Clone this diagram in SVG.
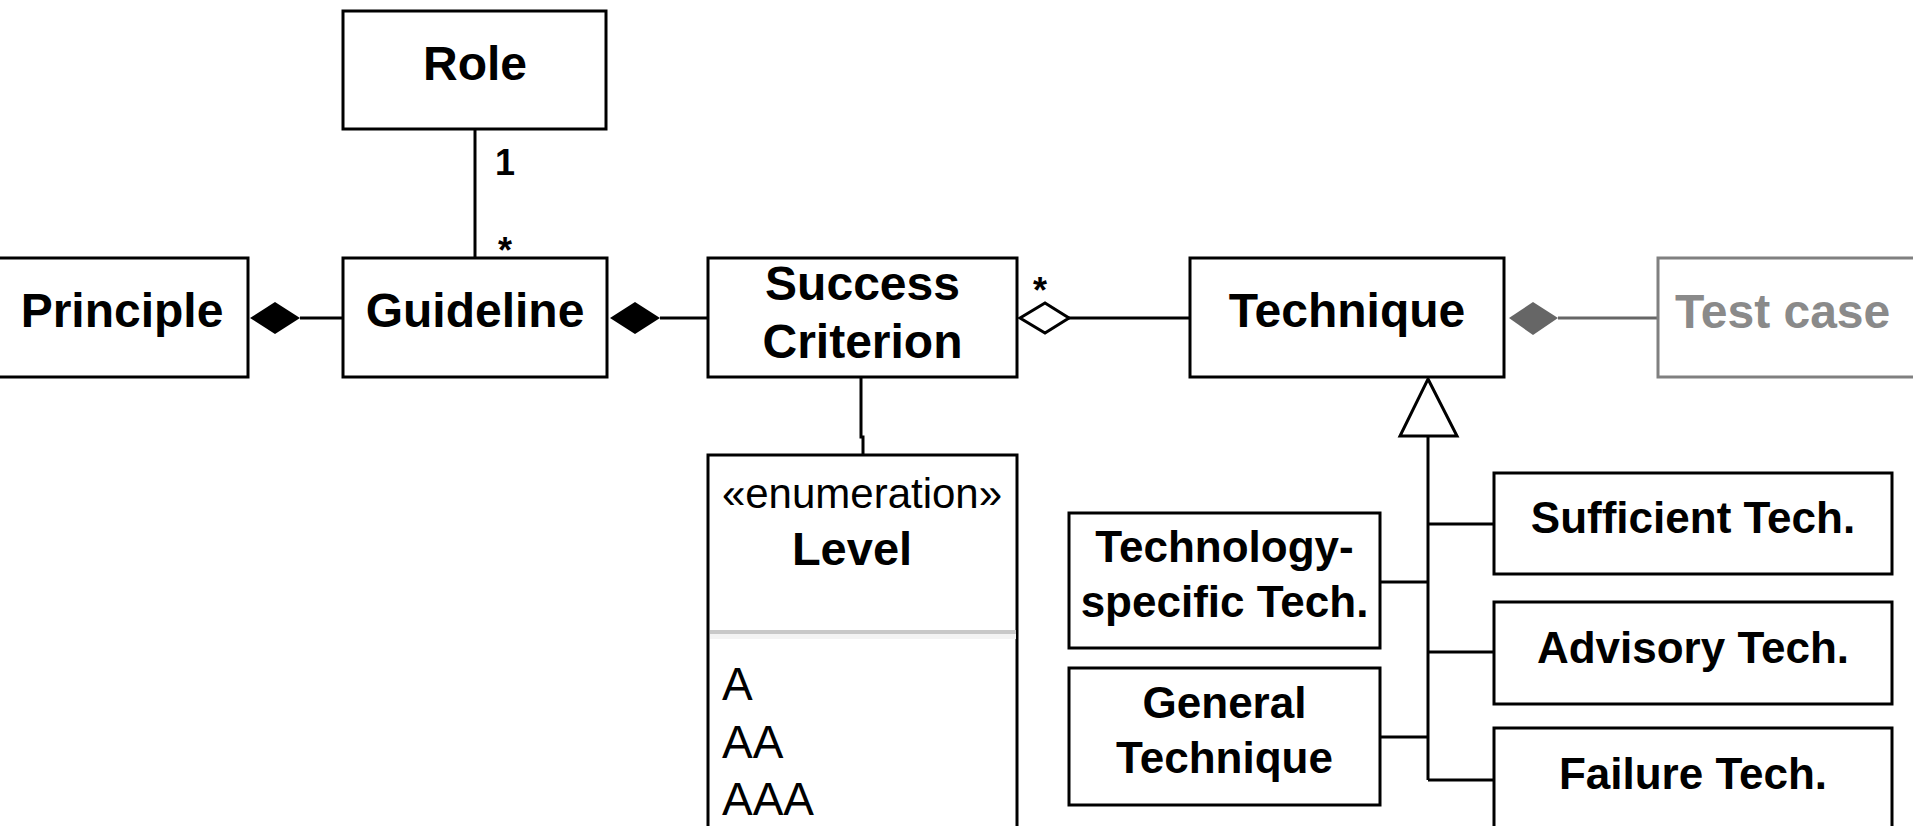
<svg xmlns="http://www.w3.org/2000/svg" width="1913" height="826" viewBox="0 0 1913 826">
<style>
.box{fill:#fff;stroke:#000;stroke-width:3}
.gbox{fill:#fff;stroke:#808080;stroke-width:3}
.ln{stroke:#000;stroke-width:3;fill:none}
.t{font-family:"Liberation Sans",Arial,sans-serif;font-weight:bold;font-size:48px;fill:#000;text-anchor:middle}
.s{font-family:"Liberation Sans",Arial,sans-serif;font-weight:bold;font-size:44px;fill:#000;text-anchor:middle}
.r{font-family:"Liberation Sans",Arial,sans-serif;font-size:46px;fill:#000}
.m{font-family:"Liberation Sans",Arial,sans-serif;font-weight:bold;font-size:36px;fill:#000}
</style>
<rect width="1913" height="826" fill="#fff"/>
<g id="connectors">
<line class="ln" x1="475" y1="129" x2="475" y2="258"/>
<path d="M250,318 L275,302 L300,318 L275,334 Z" fill="#000"/>
<line class="ln" x1="300" y1="318" x2="343" y2="318"/>
<path d="M610,318 L635,302 L660,318 L635,334 Z" fill="#000"/>
<line class="ln" x1="660" y1="318" x2="708" y2="318"/>
<path d="M1020,318 L1045,303 L1069,318 L1045,333 Z" fill="#fff" stroke="#000" stroke-width="3"/>
<line class="ln" x1="1069" y1="318" x2="1190" y2="318"/>
<path d="M1509,318 L1533,302 L1558,318 L1533,335 Z" fill="#666"/>
<line x1="1558" y1="318" x2="1658" y2="318" stroke="#666" stroke-width="3"/>
<polyline class="ln" points="861,377 861,437 863,437 863,455"/>
<line class="ln" x1="1428" y1="436" x2="1428" y2="780"/>
<polyline class="ln" points="1428,524 1494,524"/>
<polyline class="ln" points="1428,652 1494,652"/>
<polyline class="ln" points="1428,780 1494,780"/>
<polyline class="ln" points="1380,582 1428,582"/>
<polyline class="ln" points="1380,737 1428,737"/>
<path d="M1428,379 L1457,436 L1400,436 Z" fill="#fff" stroke="#000" stroke-width="3" stroke-linejoin="miter"/>
<text class="m" x="505" y="175" text-anchor="middle">1</text>
<text class="m" x="505" y="263" text-anchor="middle">*</text>
<text class="m" x="1040" y="303" text-anchor="middle">*</text>
</g>
<g id="role">
<rect class="box" x="343" y="11" width="263" height="118"/>
<text class="t" x="475" y="80">Role</text>
</g>
<g id="principle">
<rect class="box" x="-10" y="258" width="258" height="119"/>
<text class="t" x="122" y="327">Principle</text>
</g>
<g id="guideline">
<rect class="box" x="343" y="258" width="264" height="119"/>
<text class="t" x="475" y="327">Guideline</text>
</g>
<g id="success-criterion">
<rect class="box" x="708" y="258" width="309" height="119"/>
<text class="t" x="862.5" y="300">Success</text>
<text class="t" x="862.5" y="358">Criterion</text>
</g>
<g id="technique">
<rect class="box" x="1190" y="258" width="314" height="119"/>
<text class="t" x="1347" y="327">Technique</text>
</g>
<g id="test-case">
<rect class="gbox" x="1658" y="258" width="280" height="119"/>
<text class="t" x="1675" y="328" style="text-anchor:start;fill:#8a8a8a">Test case</text>
</g>
<g id="level">
<rect class="box" x="708" y="455" width="309" height="400"/>
<rect x="710" y="630" width="306" height="4" fill="#c8c8c8"/>
<rect x="710" y="634" width="306" height="5" fill="#f3f3f3"/>
<text class="r" x="862" y="508" text-anchor="middle" style="font-size:42px">«enumeration»</text>
<text class="t" x="852" y="565" style="font-size:47px">Level</text>
<text class="r" x="722" y="700">A</text>
<text class="r" x="722" y="758">AA</text>
<text class="r" x="722" y="815">AAA</text>
</g>
<g id="technology-specific">
<rect class="box" x="1069" y="513" width="311" height="135"/>
<text class="s" x="1224.5" y="562">Technology-</text>
<text class="s" x="1224.5" y="617">specific Tech.</text>
</g>
<g id="general-technique">
<rect class="box" x="1069" y="668" width="311" height="137"/>
<text class="s" x="1224.5" y="718">General</text>
<text class="s" x="1224.5" y="773">Technique</text>
</g>
<g id="sufficient">
<rect class="box" x="1494" y="473" width="398" height="101"/>
<text class="s" x="1693" y="533">Sufficient Tech.</text>
</g>
<g id="advisory">
<rect class="box" x="1494" y="602" width="398" height="102"/>
<text class="s" x="1693" y="663">Advisory Tech.</text>
</g>
<g id="failure">
<rect class="box" x="1494" y="728" width="398" height="130"/>
<text class="s" x="1693" y="789">Failure Tech.</text>
</g>
</svg>
